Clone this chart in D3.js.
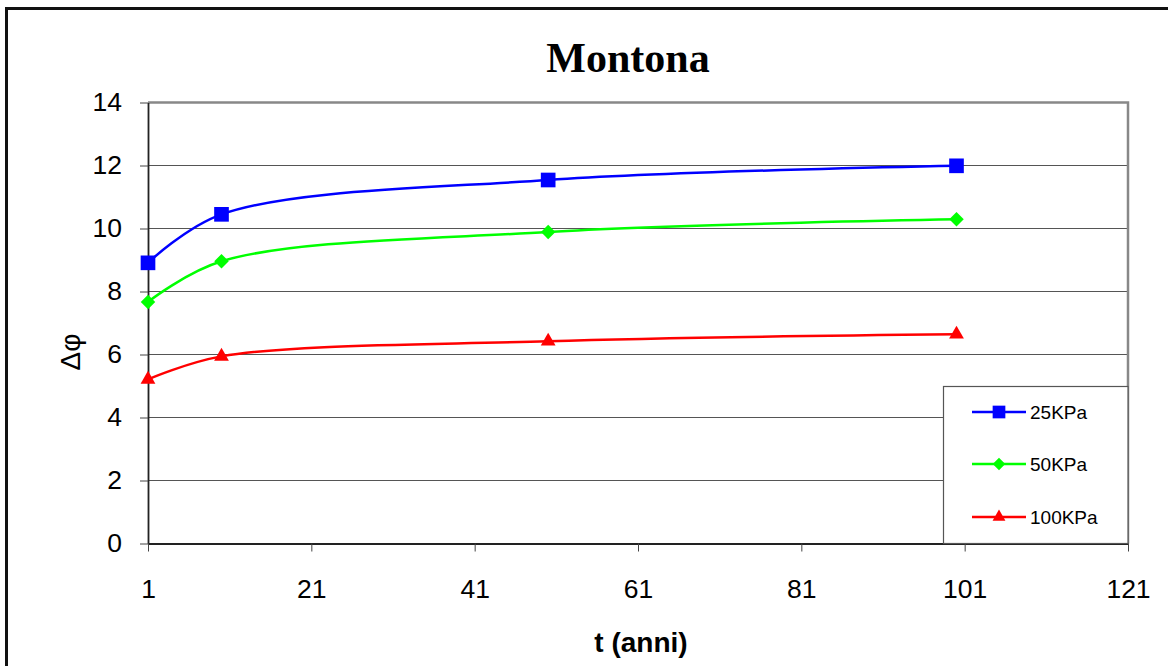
<!DOCTYPE html>
<html>
<head>
<meta charset="utf-8">
<script src="https://cdn.jsdelivr.net/npm/d3@7"></script>
<style>
  html, body { margin: 0; padding: 0; background: #fff; }
  svg { display: block; }
</style>
</head>
<body>
<svg id="chart" width="1168" height="666"></svg>
<script>
// Time in years
const years = [1, 10, 50, 100];
// Δφ for each confining pressure
const series25 = [8.91, 10.45, 11.54, 11.99];
const series50 = [7.67, 8.96, 9.89, 10.29];
const series100 = [5.21, 5.94, 6.42, 6.64];
const seriesNames = ["25KPa", "50KPa", "100KPa"];
const xTicks = [1, 21, 41, 61, 81, 101, 121];
const yTicks = [0, 2, 4, 6, 8, 10, 12, 14];

const colors = ["#0000ff", "#00ff00", "#ff0000"];
// marker shapes: square, diamond (rotated square), triangle
const symbols = [d3.symbolSquare, d3.symbolSquare, d3.symbolTriangle];
const rotations = [0, 45, 0];
const symbolSizes = [215, 105, 95];

const svg = d3.select("#chart");
const plot = { left: 148, right: 1128, top: 102.5, bottom: 543.5 };

const x = d3.scaleLinear().domain([1, 121]).range([plot.left, plot.right]);
const y = d3.scaleLinear().domain([0, 14]).range([plot.bottom, plot.top]);

// outer frame
svg.append("rect")
  .attr("x", 6.5).attr("y", 8.5).attr("width", 1180).attr("height", 680)
  .attr("fill", "none").attr("stroke", "#111").attr("stroke-width", 3);

// title
svg.append("text")
  .attr("x", 628).attr("y", 72)
  .attr("text-anchor", "middle")
  .attr("font-family", "'Liberation Serif', 'Times New Roman', serif")
  .attr("font-weight", "bold").attr("font-size", 42)
  .text("Montona");

// gridlines
svg.append("g").selectAll("line")
  .data(yTicks.filter(d => d > 0 && d < 14))
  .join("line")
  .attr("x1", plot.left).attr("x2", plot.right)
  .attr("y1", d => y(d)).attr("y2", d => y(d))
  .attr("stroke", "#555").attr("stroke-width", 1);

// plot frame (top and right, grey)
svg.append("path")
  .attr("d", `M${plot.left},${plot.top}H${plot.right}V${plot.bottom}`)
  .attr("fill", "none").attr("stroke", "#888").attr("stroke-width", 2.5);

// axes
const font = "Arial, 'Liberation Sans', sans-serif";
const yAxis = svg.append("g")
  .attr("transform", `translate(${plot.left},0)`)
  .call(d3.axisLeft(y).tickValues(yTicks).tickSize(8).tickPadding(18).tickSizeOuter(0));
const xAxis = svg.append("g")
  .attr("transform", `translate(0,${plot.bottom})`)
  .call(d3.axisBottom(x).tickValues(xTicks).tickSize(8).tickSizeOuter(0));

[yAxis, xAxis].forEach(g => {
  g.selectAll("text").attr("font-family", font).attr("font-size", 26.5).attr("fill", "#000");
  g.selectAll(".tick line").attr("stroke", "#444");
  g.select(".domain").attr("stroke", "#222").attr("stroke-width", 1.8);
});
xAxis.selectAll("text").attr("y", 54).attr("dy", 0);

// axis titles
svg.append("text")
  .attr("transform", "translate(80,352) rotate(-90)")
  .attr("text-anchor", "middle")
  .attr("font-family", font).attr("font-size", 28)
  .text("Δφ");

svg.append("text")
  .attr("x", 641).attr("y", 652)
  .attr("text-anchor", "middle")
  .attr("font-family", font).attr("font-weight", "bold").attr("font-size", 28)
  .text("t (anni)");

// series
const allSeries = [series25, series50, series100];
const line = d3.line()
  .x(d => x(d[0])).y(d => y(d[1]))
  .curve(d3.curveCatmullRom.alpha(0.5));

allSeries.forEach((vals, i) => {
  const pts = years.map((t, j) => [t, vals[j]]);
  svg.append("path")
    .attr("d", line(pts))
    .attr("fill", "none").attr("stroke", colors[i]).attr("stroke-width", 2.5);
  svg.append("g").selectAll("path")
    .data(pts).join("path")
    .attr("transform", d => `translate(${x(d[0])},${y(d[1])}) rotate(${rotations[i]})`)
    .attr("d", d3.symbol().type(symbols[i]).size(symbolSizes[i]))
    .attr("fill", colors[i]);
});

// legend
const legend = svg.append("g");
legend.append("rect")
  .attr("x", 943.5).attr("y", 386.5).attr("width", 184.5).attr("height", 157)
  .attr("fill", "#fff").attr("stroke", "#555").attr("stroke-width", 1.2);

const rowsY = [412, 464, 517];
seriesNames.forEach((name, i) => {
  const g = legend.append("g").attr("transform", `translate(0,${rowsY[i]})`);
  g.append("line").attr("x1", 972).attr("x2", 1026).attr("y1", 0).attr("y2", 0)
    .attr("stroke", colors[i]).attr("stroke-width", 2.5);
  g.append("path").attr("transform", `translate(999,0) rotate(${rotations[i]})`)
    .attr("d", d3.symbol().type(symbols[i]).size(symbolSizes[i] * 0.75))
    .attr("fill", colors[i]);
  g.append("text").attr("x", 1030).attr("y", 0).attr("dy", "0.36em")
    .attr("font-family", font).attr("font-size", 19)
    .text(name);
});
</script>
</body>
</html>
